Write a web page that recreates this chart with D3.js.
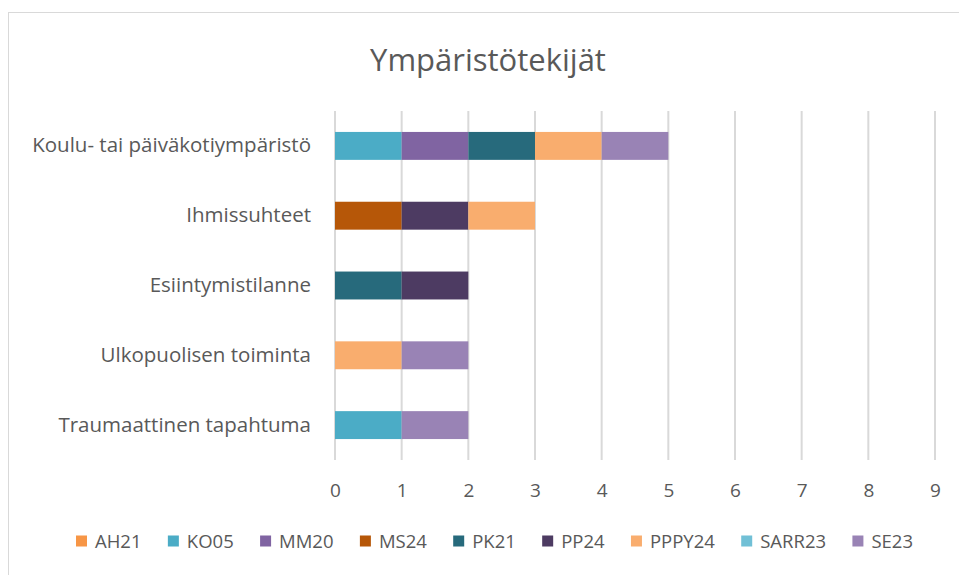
<!DOCTYPE html>
<meta charset="utf-8">
<style>
    body { margin: 0; background: white; }
    text { font-family: "Open Sans", "Noto Sans", sans-serif; fill: #595959; }
</style>
<body>
<svg width="959" height="575"></svg>
<script src="https://cdnjs.cloudflare.com/ajax/libs/d3/7.8.5/d3.min.js"></script>
<script>
    // categories top to bottom
    var categories = ["Koulu- tai päiväkotiympäristö", "Ihmissuhteet", "Esiintymistilanne",
        "Ulkopuolisen toiminta", "Traumaattinen tapahtuma"];
    var seriesNames = ["AH21", "KO05", "MM20", "MS24", "PK21", "PP24", "PPPY24", "SARR23", "SE23"];
    var seriesColors = ["#F79646", "#4BACC6", "#8064A2", "#B65708", "#276A7C", "#4D3B62", "#F9AD6E", "#71C0D6", "#9983B5"];
    // values per series, in the category order above
    var AH21   = [0, 0, 0, 0, 0];
    var KO05   = [1, 0, 0, 0, 1];
    var MM20   = [1, 0, 0, 0, 0];
    var MS24   = [0, 1, 0, 0, 0];
    var PK21   = [1, 0, 1, 0, 0];
    var PP24   = [0, 1, 1, 0, 0];
    var PPPY24 = [1, 1, 0, 1, 0];
    var SARR23 = [0, 0, 0, 0, 0];
    var SE23   = [1, 0, 0, 1, 1];
    var seriesValues = [AH21, KO05, MM20, MS24, PK21, PP24, PPPY24, SARR23, SE23];
    var xTicks = [0, 1, 2, 3, 4, 5, 6, 7, 8, 9];

    var svg = d3.select("svg");

    // chart area border
    svg.append("rect")
        .attr("x", 8.5).attr("y", 12.5)
        .attr("width", 959).attr("height", 600)
        .attr("fill", "white")
        .attr("stroke", "#D9D9D9").attr("stroke-width", 1);

    svg.append("text")
        .attr("x", 488).attr("y", 71)
        .attr("text-anchor", "middle")
        .attr("font-size", "31px")
        .text("Ympäristötekijät");

    var x = d3.scaleLinear().domain([0, 9]).range([335, 935]);
    var y = d3.scaleBand().domain(categories).range([111, 460]).paddingInner(0.6).paddingOuter(0.3);

    // gridlines
    svg.append("g").selectAll("line")
        .data(xTicks)
        .enter().append("line")
        .attr("x1", function(d) { return x(d); })
        .attr("x2", function(d) { return x(d); })
        .attr("y1", 111).attr("y2", 460)
        .attr("stroke", "#D9D9D9").attr("stroke-width", 2);

    // stacked bars
    var rows = categories.map(function(c, i) {
        var r = { cat: c };
        seriesNames.forEach(function(s, j) { r[s] = seriesValues[j][i]; });
        return r;
    });
    var stack = d3.stack().keys(seriesNames)(rows);
    var color = d3.scaleOrdinal().domain(seriesNames).range(seriesColors);

    svg.append("g").selectAll("g")
        .data(stack)
        .enter().append("g")
        .attr("fill", function(d) { return color(d.key); })
        .selectAll("rect")
        .data(function(d) { return d.filter(function(p) { return p[1] > p[0]; }); })
        .enter().append("rect")
        .attr("x", function(d) { return x(d[0]); })
        .attr("width", function(d) { return x(d[1]) - x(d[0]); })
        .attr("y", function(d) { return y(d.data.cat); })
        .attr("height", y.bandwidth());

    // x axis labels
    var xAxis = svg.append("g")
        .attr("transform", "translate(0,460)")
        .call(d3.axisBottom(x).tickValues(xTicks).tickSize(0).tickPadding(24));
    xAxis.select(".domain").remove();
    xAxis.selectAll("text").attr("font-size", "19px").attr("fill", "#595959")
        .attr("font-family", "'Open Sans', sans-serif");

    // y axis labels
    var yAxis = svg.append("g")
        .attr("transform", "translate(335,0)")
        .call(d3.axisLeft(y).tickSize(0).tickPadding(24));
    yAxis.select(".domain").remove();
    yAxis.selectAll("text").attr("font-size", "20.5px").attr("fill", "#595959")
        .attr("font-family", "'Open Sans', sans-serif");

    // legend, spread between x=76 and x=913
    var legend = svg.append("g").attr("transform", "translate(76,541)");
    var items = [], textTotal = 0;
    seriesNames.forEach(function(s, i) {
        var g = legend.append("g");
        g.append("rect").attr("x", 0).attr("y", -5.5).attr("width", 11).attr("height", 11)
            .attr("fill", seriesColors[i]);
        var t = g.append("text").attr("x", 19).attr("y", 6.5)
            .attr("font-size", "18.5px").text(s);
        var w = 19 + t.node().getComputedTextLength();
        textTotal += w;
        items.push({ g: g, w: w });
    });
    var gap = (837 - textTotal) / (items.length - 1);
    var lx = 0;
    items.forEach(function(it) {
        it.g.attr("transform", "translate(" + lx + ",0)");
        lx += it.w + gap;
    });
</script>
</body>
